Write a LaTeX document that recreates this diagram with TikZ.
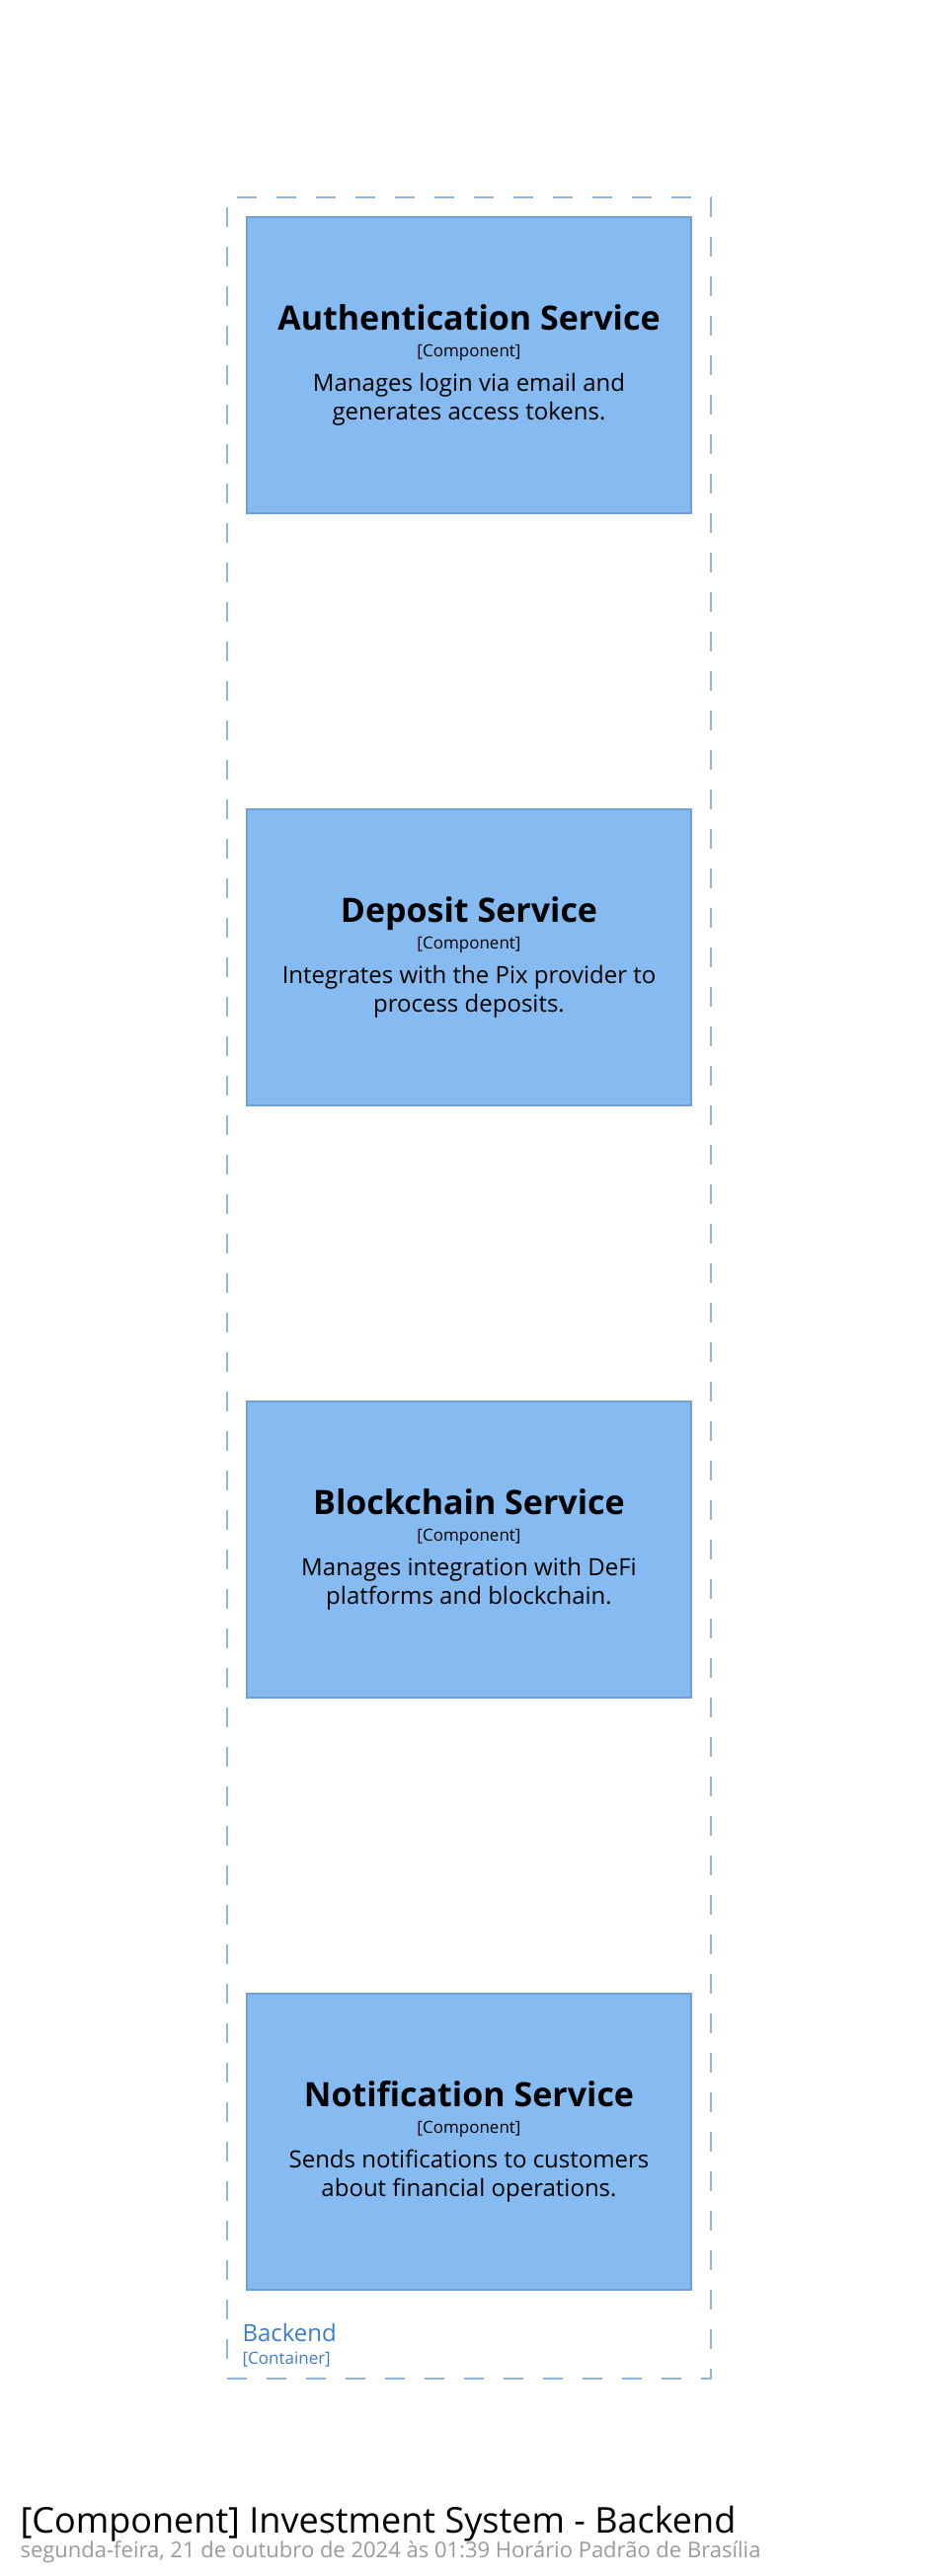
\documentclass[tikz,border=0pt]{standalone}
\usepackage{fontspec}
\setmainfont{Open Sans}
\usepackage{xcolor}
\usetikzlibrary{positioning}

\definecolor{compfill}{HTML}{85BBF0}
\definecolor{compline}{HTML}{6E9FDA}
\definecolor{boundline}{HTML}{8DB7E6}
\definecolor{boundtext}{HTML}{3D7CC9}
\definecolor{metatext}{HTML}{9A9A9A}

\newcommand{\compname}[1]{{\fontsize{34}{36}\selectfont\bfseries #1}}
\newcommand{\comptype}{{\fontsize{17}{19}\selectfont [Component]}}

\tikzset{
  component/.style={draw=compline, fill=compfill, line width=1.5pt,
    minimum width=450pt, minimum height=300pt, inner sep=0pt, outer sep=0pt,
    align=center, font=\fontsize{24}{28.5}\selectfont},
  boundary/.style={draw=boundline, line width=2pt, dash pattern=on 20pt off 20pt,
    inner sep=0pt, outer sep=0pt},
}

\begin{document}
\begin{tikzpicture}[x=1pt, y=-1pt]
    \useasboundingbox (0,0) rectangle (950,2610);

    % Backend container
    \node[boundary, minimum width=490pt, minimum height=2210pt, anchor=north west] (backend) at (230,200) {};
    \node[anchor=base west, text=boundtext, font=\fontsize{24}{26}\selectfont] (backend-name) at (242,2372) {Backend};
    \node[anchor=base west, text=boundtext, font=\fontsize{17}{19}\selectfont] (backend-type) at (242,2395) {[Container]};

    % Components
    \node[component] (auth) at (475,370) {\compname{Authentication Service}\\[-1.5pt]\comptype\\[6.5pt]Manages login via email and\\generates access tokens.};
    \node[component, below=300pt of auth] (deposit) {\compname{Deposit Service}\\[-1.5pt]\comptype\\[6.5pt]Integrates with the Pix provider to\\process deposits.};
    \node[component, below=300pt of deposit] (chain) {\compname{Blockchain Service}\\[-1.5pt]\comptype\\[6.5pt]Manages integration with DeFi\\platforms and blockchain.};
    \node[component, below=300pt of chain] (notify) {\compname{Notification Service}\\[-1.5pt]\comptype\\[6.5pt]Sends notifications to customers\\about financial operations.};

    % Diagram title
    \node[anchor=base west, font=\fontsize{36}{40}\selectfont] (title) at (17,2566) {[Component] Investment System - Backend};
    \node[anchor=base west, text=metatext, font=\fontsize{22}{24}\selectfont] (subtitle) at (17,2591) {segunda-feira, 21 de outubro de 2024 às 01:39 Horário Padrão de Brasília};
\end{tikzpicture}
\end{document}
